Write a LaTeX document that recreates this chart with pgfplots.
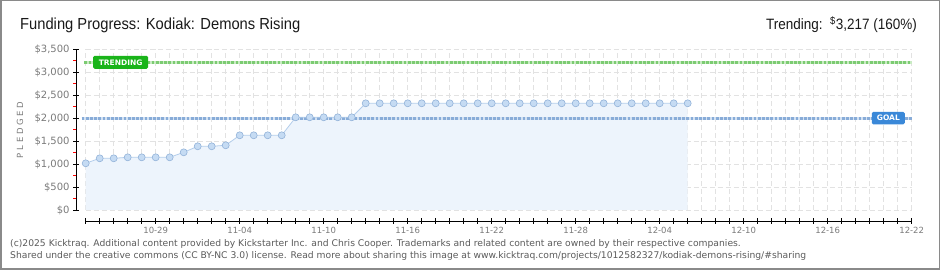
\documentclass[border=0pt]{standalone}
\usepackage{graphicx}
\usepackage{pgfplots}
\pgfplotsset{compat=1.18}
\usepackage{fontspec}
\setmainfont{Liberation Sans}
\newfontfamily\dejavu{DejaVu Sans}
\definecolor{gridc}{HTML}{E2E2E2}
\definecolor{fillc}{HTML}{EDF4FC}
\definecolor{linec}{HTML}{B3CDEB}
\definecolor{markf}{HTML}{C5DBF3}
\definecolor{markd}{HTML}{93B3D9}
\definecolor{goald}{HTML}{88ACD8}
\definecolor{goall}{HTML}{D3E2F3}
\definecolor{trendd}{HTML}{7CCB72}
\definecolor{trendl}{HTML}{C9EBC3}
\definecolor{trendbox}{HTML}{1AB41A}
\definecolor{goalbox}{HTML}{3A88D8}
\definecolor{tickc}{HTML}{7A7A7A}
\definecolor{footc}{HTML}{5A5A5A}
\definecolor{borderc}{HTML}{8A8A8A}
\begin{document}
\begin{tikzpicture}
\useasboundingbox (0pt,0pt) rectangle (940pt,270pt);
\draw[borderc, line width=1.5pt] (0.75pt,0.75pt) rectangle (939.25pt,269.25pt);
\node[anchor=base west, text=black!90, inner sep=0pt] at (20pt,240pt) {\scalebox{0.92}[1]{\fontsize{16}{18}\selectfont Funding Progress: Kodiak: Demons Rising}};
\node[anchor=base east, text=black!90, inner sep=0pt] at (917pt,240pt) {\scalebox{0.9}[1]{\fontsize{15}{18}\selectfont Trending:\ \ \textsuperscript{\$}3,217 (160\%)}};
\node[rotate=90, text=tickc, font=\dejavu\fontsize{8.5}{9}\selectfont] at (20pt,140pt) {P L E D G E D};
\node[anchor=base west, text=footc, inner sep=0pt, font=\dejavu\fontsize{9.2}{10}\selectfont] at (10pt,23.5pt) {(c)2025 Kicktraq. Additional content provided by Kickstarter Inc. and Chris Cooper. Trademarks and related content are owned by their respective companies.};
\node[anchor=base west, text=footc, inner sep=0pt, font=\dejavu\fontsize{9.2}{10}\selectfont] at (10pt,11.5pt) {Shared under the creative commons (CC BY-NC 3.0) license. Read more about sharing this image at www.kicktraq.com/projects/1012582327/kodiak-demons-rising/\#sharing};
\begin{axis}[
  at={(75.9pt,49pt)}, anchor=south west, scale only axis,
  width=840pt, height=171.7pt,
  xmin=-0.7, xmax=59.3, ymin=-240, ymax=3500,
  axis line style={draw=none},
  clip=false,
  xtick={5,11,17,23,29,35,41,47,53,59},
  xticklabels={10-29,11-04,11-10,11-16,11-22,11-28,12-04,12-10,12-16,12-22},
  minor xtick={0,...,59},
  ytick={0,500,1000,1500,2000,2500,3000,3500},
  yticklabels={\$0,\$500,{\$1,000},{\$1,500},{\$2,000},{\$2,500},{\$3,000},{\$3,500}},
  xtick pos=bottom, ytick pos=left,
  tick align=center,
  major tick length=5.6pt, minor tick length=5.6pt,
  tick style={black, line width=0.8pt},
  yticklabel style={font=\dejavu\fontsize{10}{10}\selectfont, text=tickc},
  xticklabel style={font=\dejavu\fontsize{8.5}{10}\selectfont, text=tickc},
]
\pgfplotsinvokeforeach{0,...,59}{\draw[gridc, line width=0.8pt, dash pattern=on 5pt off 3pt] (axis cs:#1,0) -- (axis cs:#1,3500);}
\pgfplotsinvokeforeach{0,500,1000,1500,2000,2500,3000,3500}{\draw[gridc, line width=0.8pt, dash pattern=on 5pt off 3pt] (axis cs:0,#1) -- (axis cs:59,#1);}
\draw[black, line width=0.8pt] (axis cs:-0.7,0) -- (axis cs:-0.7,3500);
\draw[black, line width=0.8pt] (axis cs:0,-240) -- (axis cs:59,-240);
\pgfplotsinvokeforeach{250,750,1250,1750,2250,2750,3250}{\draw[red, line width=0.8pt] (axis cs:-0.7,#1) -- ++(-3.3pt,0pt);}
\addplot[draw=none, fill=fillc] coordinates {
(0,0)(0,1017)(1,1126)(2,1126)(3,1147)(4,1147)(5,1147)(6,1147)(7,1256)(8,1387)(9,1387)(10,1409)(11,1627)(12,1627)(13,1627)(14,1627)(15,2019)(16,2019)(17,2019)(18,2019)(19,2019)(20,2324)(21,2324)(22,2324)(23,2324)(24,2324)(25,2324)(26,2324)(27,2324)(28,2324)(29,2324)(30,2324)(31,2324)(32,2324)(33,2324)(34,2324)(35,2324)(36,2324)(37,2324)(38,2324)(39,2324)(40,2324)(41,2324)(42,2324)(43,2324)(43,0)};
\addplot[goall, line width=3pt] coordinates {(-0.3,2000)(59,2000)};
\addplot[goald, line width=3pt, dash pattern=on 2.8pt off 1.4pt] coordinates {(-0.3,2000)(59,2000)};
\addplot[trendl, line width=3pt] coordinates {(-0.1,3217)(59,3217)};
\addplot[trendd, line width=3pt, dash pattern=on 2.8pt off 1.4pt] coordinates {(-0.1,3217)(59,3217)};
\addplot[linec, line width=0.8pt, mark=*, mark size=3.5pt, mark options={fill=markf, draw=markd, line width=0.6pt}] coordinates {
(0,1017)(1,1126)(2,1126)(3,1147)(4,1147)(5,1147)(6,1147)(7,1256)(8,1387)(9,1387)(10,1409)(11,1627)(12,1627)(13,1627)(14,1627)(15,2019)(16,2019)(17,2019)(18,2019)(19,2019)(20,2324)(21,2324)(22,2324)(23,2324)(24,2324)(25,2324)(26,2324)(27,2324)(28,2324)(29,2324)(30,2324)(31,2324)(32,2324)(33,2324)(34,2324)(35,2324)(36,2324)(37,2324)(38,2324)(39,2324)(40,2324)(41,2324)(42,2324)(43,2324)};
\node[fill=trendbox, text=white, rounded corners=1.5pt, inner sep=0pt, minimum width=55pt, minimum height=13pt, font=\dejavu\bfseries\fontsize{7.5}{8}\selectfont] at (axis cs:2.5,3217) {TRENDING\hspace{6pt}};
\node[fill=goalbox, text=white, rounded corners=1.5pt, inner sep=0pt, minimum width=33pt, minimum height=12.5pt, font=\dejavu\bfseries\fontsize{7.5}{8}\selectfont] at (axis cs:57.33,2000) {GOAL\hspace{5pt}};
\end{axis}
\end{tikzpicture}
\end{document}
